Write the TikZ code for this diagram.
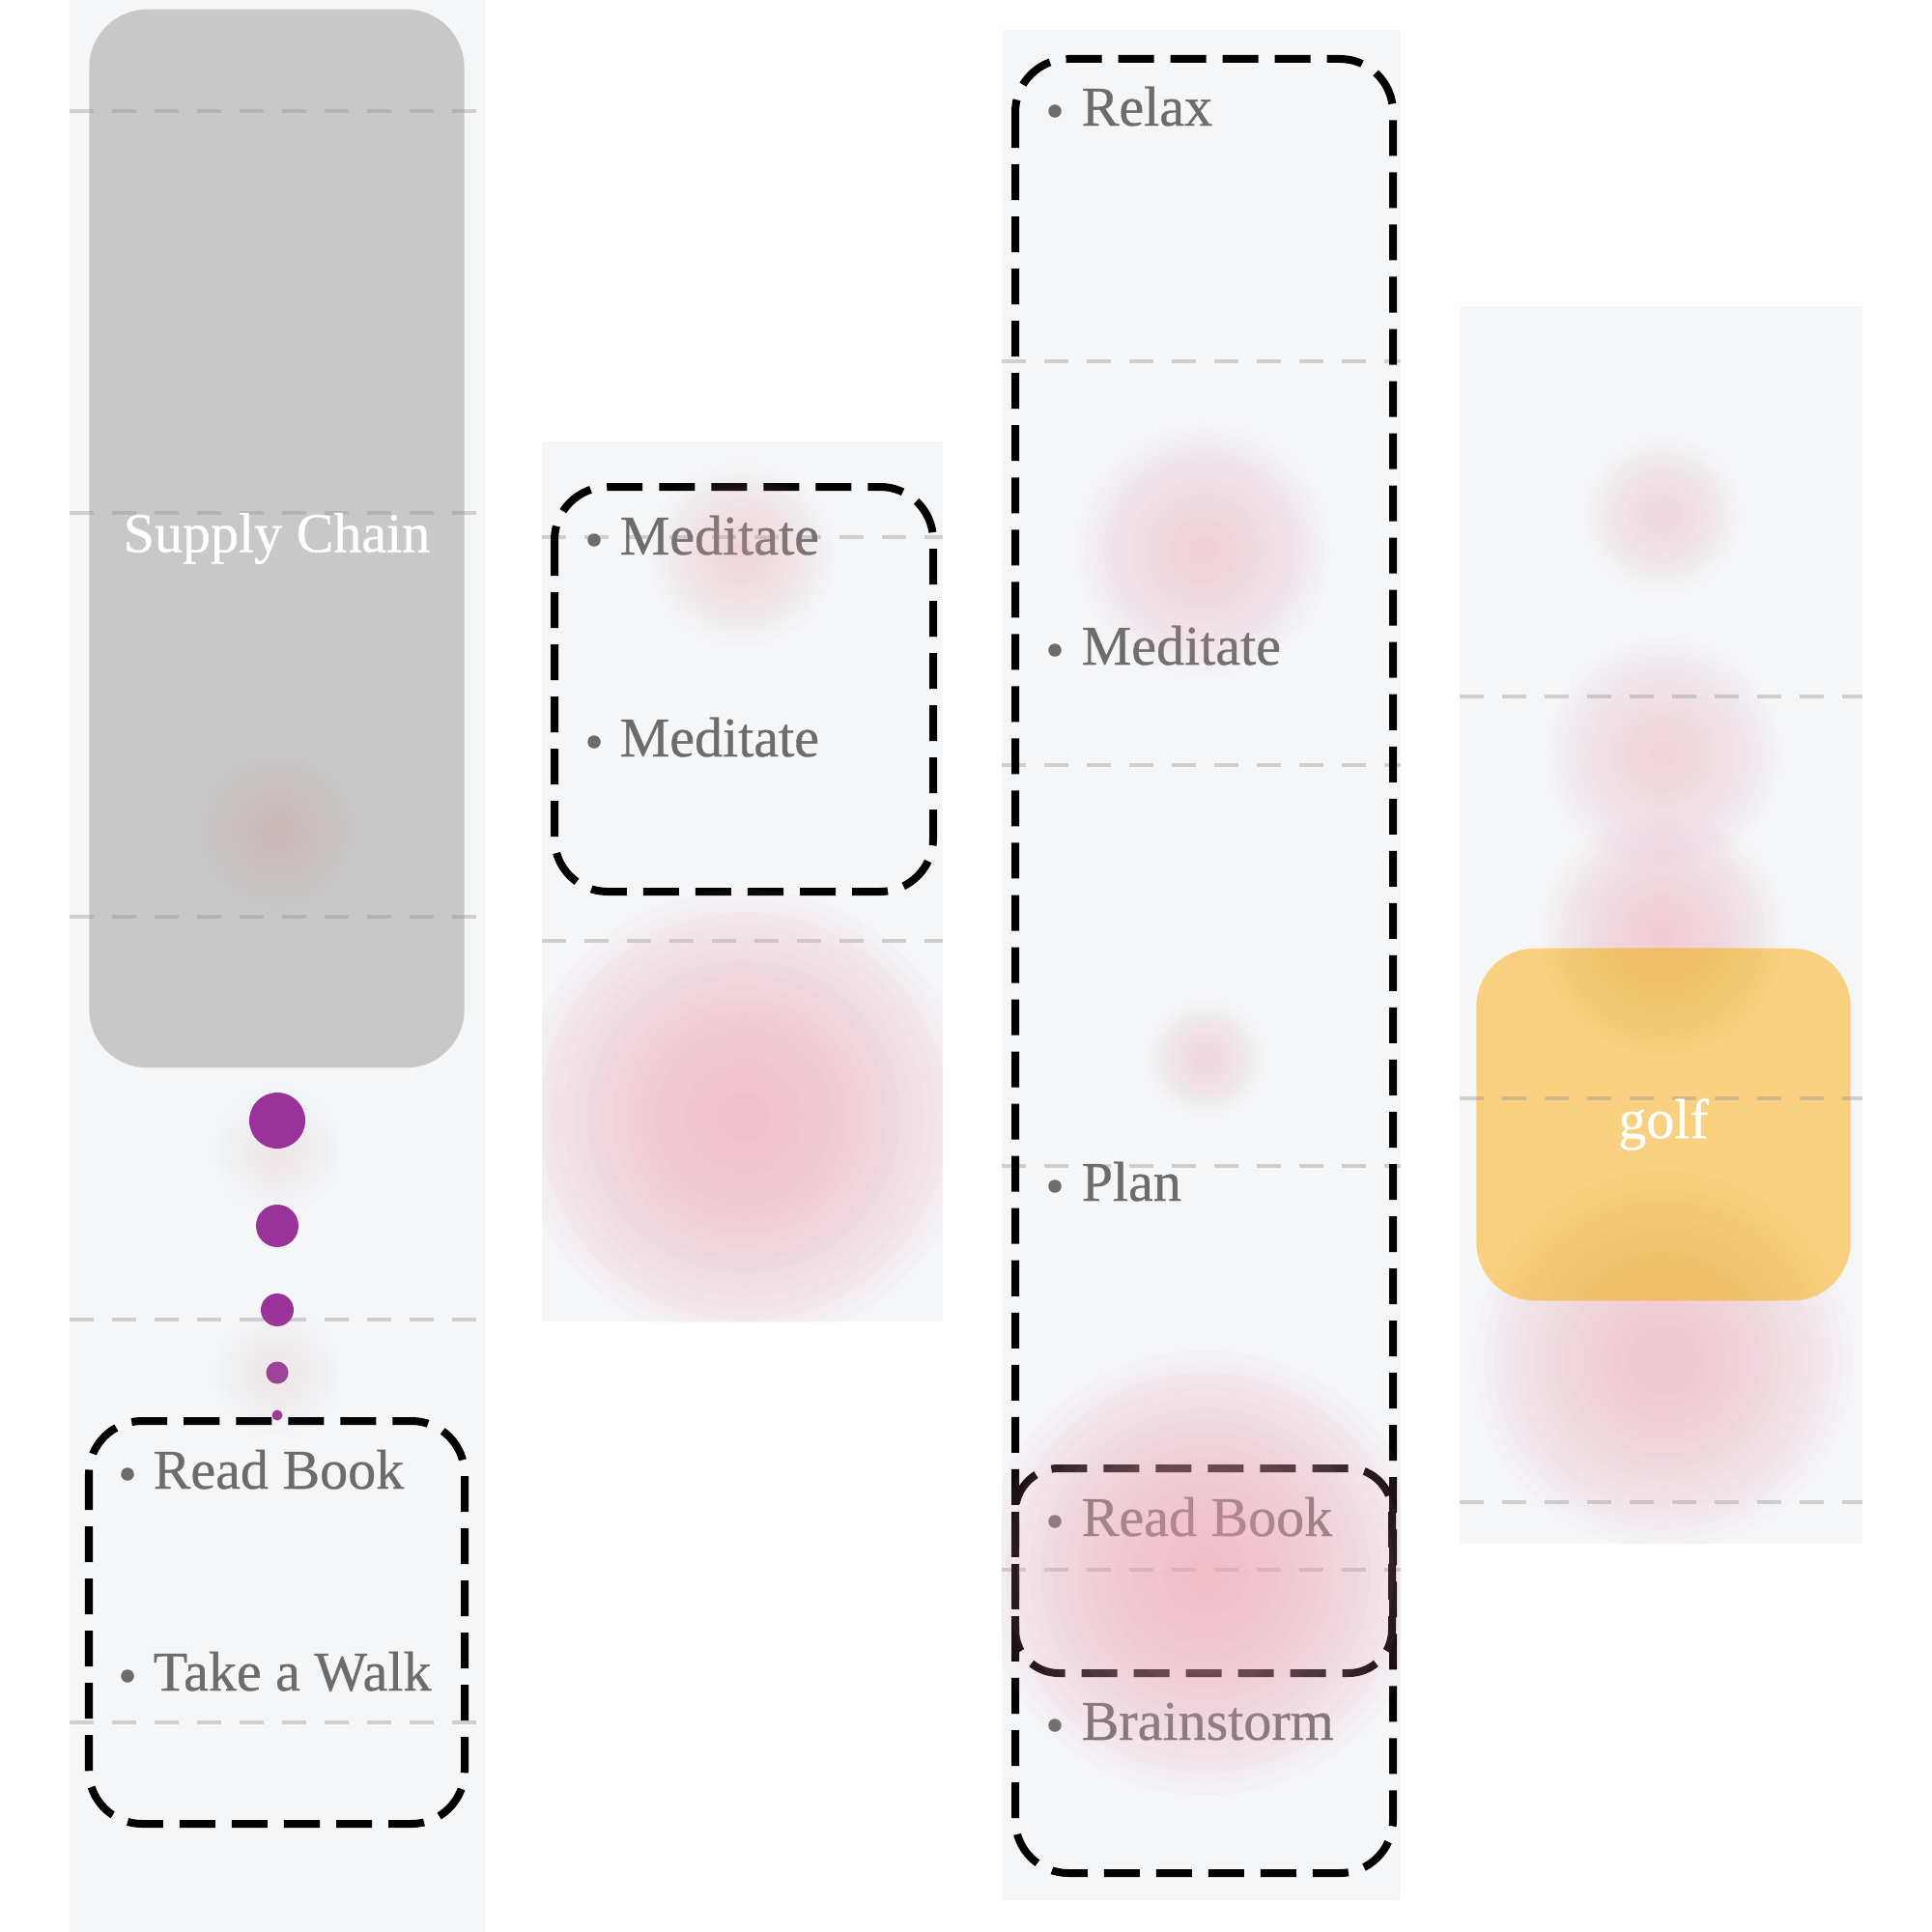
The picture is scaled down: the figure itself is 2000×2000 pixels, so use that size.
\documentclass[tikz,border=0pt]{standalone}
\usepackage{fontspec}
\setmainfont{Liberation Serif}
\newfontfamily\labfont{Liberation Serif}[FakeBold=0.6]

\definecolor{lanebg}{RGB}{245,246,248}
\definecolor{boxgray}{RGB}{200,200,200}
\definecolor{golfc}{RGB}{249,208,127}
\definecolor{purp}{RGB}{153,51,153}
\definecolor{txtgray}{RGB}{108,108,108}
\definecolor{gridc}{RGB}{150,150,150}
\definecolor{glowc}{RGB}{240,165,182}
\definecolor{orangec}{RGB}{240,165,70}

% glow: x, y, radius (px), opacity per layer, colour
\newcommand\glowat[5]{%
  \foreach \k in {1,...,16}{\fill[#5, fill opacity=#4] (#1,#2) circle ({#3*pow(\k/16,0.8)*0.1mm});}}

\tikzset{
  lane/.style={fill=lanebg},
  gridline/.style={draw=gridc, draw opacity=0.4, line width=0.35mm, dash pattern=on 2.5mm off 1.9mm},
  frame/.style={draw=black, line width=0.8mm, dash pattern=on 3.7mm off 1.7mm, rounded corners=5.5mm},
  item/.style={font=\labfont\fontsize{16.5}{20}\selectfont, text=txtgray, inner sep=0pt, anchor=base west},
  bul/.style={circle, fill=txtgray, minimum size=1.35mm, inner sep=0pt},
  wlabel/.style={font=\labfont\fontsize{16.5}{20}\selectfont, text=white, inner sep=0pt},
  dot/.style={circle, fill=purp, inner sep=0pt}
}

\begin{document}
\begin{tikzpicture}[x=0.01cm, y=-0.01cm]
\useasboundingbox (0,0) rectangle (2000,2000);
\fill[white] (0,0) rectangle (2000,2000);

% lanes
\fill[lane] (72,0) rectangle (502,2000);
\fill[lane] (561,457) rectangle (976,1368);
\fill[lane] (1037,31) rectangle (1450,1967);
\fill[lane] (1511,317) rectangle (1928,1598);

% lane 4 glows (under the golf box)
\begin{scope}
  \clip (1511,317) rectangle (1928,1598);
  \glowat{1721}{533}{80}{0.018}{glowc}
  \glowat{1722}{781}{120}{0.026}{glowc}
  \glowat{1721}{966}{125}{0.034}{glowc}
  \glowat{1722}{1408}{195}{0.042}{glowc}
\end{scope}

% boxes
\node[fill=boxgray, rounded corners=6mm, minimum width=38.8mm, minimum height=109.5mm, inner sep=0pt] (scbox) at (286.5,557.5) {};
\node[fill=golfc, rounded corners=6mm, minimum width=38.7mm, minimum height=36.4mm, inner sep=0pt] (golfbox) at (1722,1164) {};
\begin{scope}
  \clip[rounded corners=6mm] (golfbox.south west) rectangle (golfbox.north east);
  \glowat{1721}{966}{125}{0.027}{orangec}
  \glowat{1722}{1408}{195}{0.032}{orangec}
\end{scope}

% grid lines
\draw[gridline] (72,115) -- (502,115);
\draw[gridline] (72,531) -- (502,531);
\draw[gridline] (72,949) -- (502,949);
\draw[gridline] (72,1366) -- (502,1366);
\draw[gridline] (72,1783) -- (502,1783);
\draw[gridline] (561,556) -- (976,556);
\draw[gridline] (561,974) -- (976,974);
\draw[gridline] (1037,374) -- (1450,374);
\draw[gridline] (1037,792) -- (1450,792);
\draw[gridline] (1037,1207) -- (1450,1207);
\draw[gridline] (1037,1625) -- (1450,1625);
\draw[gridline] (1511,721) -- (1928,721);
\draw[gridline] (1511,1137) -- (1928,1137);
\draw[gridline] (1511,1555) -- (1928,1555);

% purple dots
\node[dot, minimum size=5.8mm] (d1) at (287,1160) {};
\node[dot, minimum size=4.4mm] (d2) at (287,1269) {};
\node[dot, minimum size=3.4mm] (d3) at (287,1356) {};
\node[dot, minimum size=2.3mm] (d4) at (287,1421) {};
\node[dot, minimum size=1.1mm] (d5) at (287,1465) {};

% items lane 1
\node[bul] (b1) at (132,1526) {};
\node[item] (t1) at (158,1541) {Read Book};
\node[bul] (b2) at (132,1735) {};
\node[item] (t2) at (158,1750) {Take a Walk};
% lane 2
\node[bul] (b3) at (615,559) {};
\node[item] (t3) at (641,574) {Meditate};
\node[bul] (b4) at (615,768) {};
\node[item] (t4) at (641,783) {Meditate};
% lane 3
\node[bul] (b5) at (1092,115) {};
\node[item] (t5) at (1119,130) {Relax};
\node[bul] (b6) at (1092,673) {};
\node[item] (t6) at (1119,688) {Meditate};
\node[bul] (b7) at (1092,1228) {};
\node[item] (t7) at (1119,1243) {Plan};
\node[bul] (b8) at (1092,1575) {};
\node[item] (t8) at (1119,1590) {Read Book};
\node[bul] (b9) at (1092,1786) {};
\node[item] (t9) at (1119,1801) {Brainstorm};

% dashed frames
\draw[frame] (92,1471) rectangle (481,1888);
\draw[frame] (574,504) rectangle (966,923);
\draw[frame] (1051,61) rectangle (1442,1939);
\draw[frame, rounded corners=4.5mm] (1051,1520) rectangle (1441,1732);

% glows
\begin{scope}
  \clip (72,0) rectangle (502,2000);
  \glowat{287}{861}{85}{0.018}{glowc}
  \glowat{287}{1191}{65}{0.008}{glowc}
  \glowat{287}{1421}{65}{0.012}{glowc}
\end{scope}
\begin{scope}
  \clip (561,457) rectangle (976,1368);
  \glowat{768}{574}{95}{0.022}{glowc}
  \glowat{770}{1156}{235}{0.056}{glowc}
\end{scope}
\begin{scope}
  \clip (1037,31) rectangle (1450,1967);
  \glowat{1246}{570}{130}{0.032}{glowc}
  \glowat{1248}{1096}{60}{0.018}{glowc}
  \glowat{1248}{1628}{230}{0.058}{glowc}
\end{scope}

% white labels
\node[wlabel] (sc) at (scbox.center) {Supply Chain};
\node[wlabel] (golf) at (golfbox.center) {golf};
\end{tikzpicture}
\end{document}
